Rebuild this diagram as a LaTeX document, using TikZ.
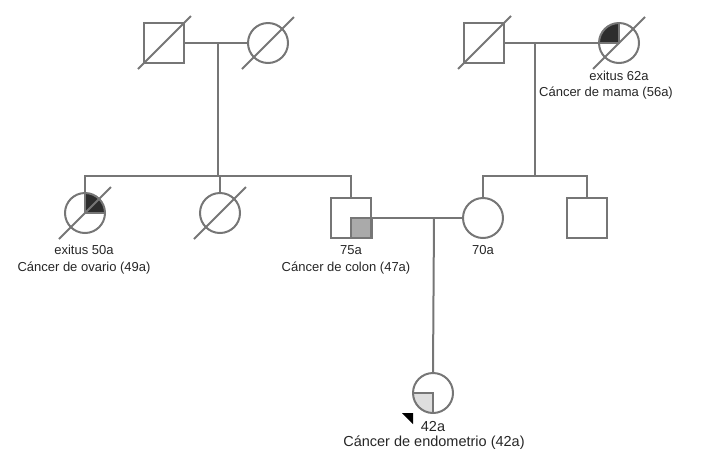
\documentclass[tikz,border=0pt]{standalone}
\usepackage{fontspec}
\setmainfont{Liberation Sans}
\begin{document}
\begin{tikzpicture}[x=1pt,y=1pt,
  ln/.style={draw=linegray,line width=2pt},
  male/.style={ln,rectangle,minimum size=40pt,inner sep=0pt},
  female/.style={ln,circle,minimum size=40pt,inner sep=0pt},
  lbl/.style={font=\fontsize{13}{15}\selectfont,text=black!85,inner sep=0pt},
  biglbl/.style={font=\fontsize{14.5}{16}\selectfont,text=black!85,inner sep=0pt},
  slash/.style={draw=linegray,line width=2pt}]
\definecolor{linegray}{RGB}{118,118,118}
\definecolor{darkq}{RGB}{45,45,45}
\definecolor{midq}{RGB}{170,170,170}
\definecolor{lightq}{RGB}{222,222,222}
\useasboundingbox (0,0) rectangle (709,-459);
% fills
\fill[darkq] (619,-43) -- ++(0,20) arc[start angle=90,end angle=180,radius=20] -- cycle;
\fill[darkq] (85,-213) -- ++(0,20) arc[start angle=90,end angle=0,radius=20] -- cycle;
\fill[lightq] (433,-393) -- ++(0,-20) arc[start angle=270,end angle=180,radius=20] -- cycle;
\draw[ln,fill=midq] (351,-218) rectangle (372,-238);
\draw[ln] (619,-23) -- (619,-43) -- (599,-43);
\draw[ln] (85,-193) -- (85,-213) -- (105,-213);
\draw[ln] (413,-393) -- (433,-393) -- (433,-413);
% individuals
\node[male] (gf1) at (164,-43) {};
\node[female] (gm1) at (268,-43) {};
\node[male] (gf2) at (484,-43) {};
\node[female] (gm2) at (619,-43) {};
\node[female] (a1) at (85,-213) {};
\node[female] (a2) at (220,-213) {};
\node[male] (fa) at (351,-218) {};
\node[female] (mo) at (483,-218) {};
\node[male] (u1) at (587,-218) {};
\node[female] (pr) at (433,-393) {};
% marriage and descent
\coordinate (m1) at (218,-43);
\coordinate (m2) at (535,-43);
\coordinate (m3) at (434,-218);
\coordinate (s1) at (218,-176);
\coordinate (s2) at (535,-176);
\draw[ln] (gf1.east) -- (gm1.west);
\draw[ln] (gf2.east) -- (gm2.west);
\draw[ln] (fa.east) -- (mo.west);
\draw[ln] (m1) -- (s1);
\draw[ln] (m2) -- (s2);
\draw[ln] (a1.north) |- (s1) -| (fa.north);
\draw[ln] (a2.north) -- (a2.north |- s1);
\draw[ln] (mo.north) |- (s2) -| (u1.north);
\draw[ln] (m3) -- (pr.north);
% deceased slashes
\draw[slash] (138,-69) -- (191,-16);
\draw[slash] (242,-69) -- (294,-17);
\draw[slash] (458,-69) -- (511,-16);
\draw[slash] (593,-69) -- (645,-17);
\draw[slash] (59,-239) -- (111,-187);
\draw[slash] (194,-239) -- (246,-187);
% proband arrow
\fill[black] (402,-413) -- (413,-413) -- (413,-424) -- cycle;
% labels
\node[lbl] (t1) at (619,-76) {exitus 62a};
\node[lbl] (t2) at (606,-93) {Cáncer de mama (56a)};
\node[lbl] (t3) at (84,-250) {exitus 50a};
\node[lbl] (t4) at (84,-268) {Cáncer de ovario (49a)};
\node[lbl] (t5) at (351,-250) {75a};
\node[lbl] (t6) at (346,-268) {Cáncer de colon (47a)};
\node[lbl] (t7) at (483,-250) {70a};
\node[biglbl] (t8) at (433,-426) {42a};
\node[biglbl] (t9) at (434,-443) {Cáncer de endometrio (42a)};
\end{tikzpicture}
\end{document}
